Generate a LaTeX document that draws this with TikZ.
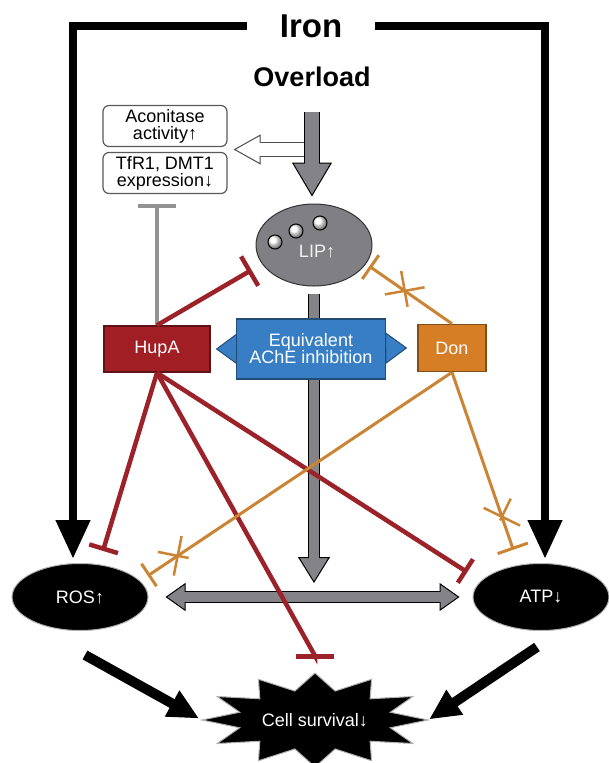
\documentclass[tikz,border=0pt]{standalone}
\usepackage{fontspec}
\setmainfont{Liberation Sans}
\usetikzlibrary{arrows.meta, positioning, shapes.geometric, shapes.misc, calc}

\definecolor{hupared}{RGB}{160,30,36}
\definecolor{inhred}{RGB}{155,34,40}
\definecolor{donorange}{RGB}{214,126,38}
\definecolor{inhorange}{RGB}{202,132,52}
\definecolor{achblue}{RGB}{56,126,196}
\definecolor{lipgray}{RGB}{128,128,132}
\definecolor{arrgray}{RGB}{132,132,136}

\begin{document}
\begin{tikzpicture}[x=1pt, y=-1pt,
  lbl/.style={font=\fontsize{18}{17}\selectfont, align=center},
  heading/.style={font=\bfseries\fontsize{#1}{#1}\selectfont},
  agent/.style={lbl, text=white, line width=1.5pt, inner sep=2pt},
  infobox/.style={lbl, draw=gray!70!black, fill=white, rounded corners=6pt, line width=1.2pt,
                  minimum width=124pt, minimum height=41pt, inner sep=1pt},
  outcome/.style={lbl, ellipse, fill=black, draw=gray!60, line width=1pt, text=white,
                  minimum width=136pt, minimum height=67pt},
  fatarrow/.style n args={3}{draw=black, line width=#1+2pt,
    -{Triangle[width=#2, length=#3, line width=1pt, fill=arrgray]},
    postaction={draw=arrgray, line width=#1, arrows=-, shorten >=#3-4pt}},
  fatdouble/.style n args={3}{draw=black, line width=#1+2pt,
    {Triangle[width=#2, length=#3, line width=1pt, fill=arrgray]}-{Triangle[width=#2, length=#3, line width=1pt, fill=arrgray]},
    postaction={draw=arrgray, line width=#1, arrows=-, shorten >=#3-4pt, shorten <=#3-4pt}},
  hollowarrow/.style={draw=gray!60!black, line width=15pt,
    -{Triangle[width=30pt, length=27pt, line width=1pt, fill=white]},
    postaction={draw=white, line width=13pt, arrows=-, shorten >=23pt}},
  ironarrow/.style={draw=black, line width=8pt, -{Triangle[width=35pt, length=38pt, line width=1pt]}},
  blackarrow/.style={draw=black, line width=10pt, -{Triangle[width=30pt, length=30pt, line width=1pt]}},
  bluearrow/.style={draw=achblue, line width=20pt,
    {Triangle[width=32pt, length=22pt, line width=1pt, color=achblue!60!black, fill=achblue]}-{Triangle[width=32pt, length=22pt, line width=1pt, color=achblue!60!black, fill=achblue]}},
  inhibit/.style={draw=inhred, line width=4.5pt},
  inhibitd/.style={draw=inhorange, line width=3pt},
  grayinhibit/.style={draw=gray!85, line width=4pt, -{Bar[width=38pt]}},
  xmark/.style={cross out, draw=inhorange, line width=2.5pt, minimum size=26pt, inner sep=0pt, sloped},
  burst/.style={fill=black, draw=gray!60, line width=1pt}
]
  \useasboundingbox (0,0) rectangle (609,763);

  \node[heading=33, inner xsep=33pt] (iron) at (311,26) {Iron};
  \node[heading=27] (overload) at (312,77) {Overload};
  \node[infobox] (acon) at (165,126) {Aconitase\\activity↑};
  \node[infobox] (tfr) at (165,173) {TfR1, DMT1\\expression↓};

  \node[ellipse, fill=lipgray, draw=gray!40!black, line width=1pt,
        minimum width=116pt, minimum height=82pt] (lip) at (314,245) {};
  \foreach \bx/\by in {275/242, 296/231, 320/223}
    \draw[ball color=white, line width=1pt] (\bx,\by) circle (7pt);
  \node[lbl, text=white!88!gray] (liplabel) at (317,252) {LIP↑};

  \node[agent, fill=hupared, draw=hupared!60!black, minimum width=106pt, minimum height=46pt] (hupa) at (157,349) {HupA};
  \node[agent, fill=donorange, draw=donorange!60!black, minimum width=68pt, minimum height=47pt] (don) at (452,348) {Don};

  \node[outcome] (ros) at (80,597) {ROS↑};
  \node[outcome] (atp) at (541,597) {ATP↓};

  % twelve-pointed burst behind the survival label
  \coordinate (cellc) at (315,720);
  \draw[burst, shift={(cellc)}] plot[samples at={0,...,23}, variable=\k]
    ({ifthenelse(mod(\k,2)==0,113,78)*cos(15*\k)}, {ifthenelse(mod(\k,2)==0,47,30)*sin(15*\k)}) -- cycle;
  \node[lbl, text=white, minimum width=226pt, minimum height=94pt] (cell) at (cellc) {Cell survival↓};

  \coordinate (boxgap) at ($(acon.south east)!0.5!(tfr.north east)$);
  \coordinate (rosatp) at ($(ros.east)!0.5!(atp.west)$);

  % iron input
  \draw[ironarrow] (iron.west) -| ([xshift=-7pt,yshift=5pt]ros.north);
  \draw[ironarrow] (iron.east) -| ([xshift=4pt,yshift=5pt]atp.north);

  % gray flow
  \draw[hollowarrow] (boxgap -| overload) -- ([xshift=6pt]boxgap);
  \draw[fatarrow={14pt}{40pt}{34pt}] ([yshift=-22pt]overload.south) -- ([yshift=7pt]overload.south |- lip.north);
  \draw[fatarrow={10pt}{32pt}{26pt}] ([yshift=-7pt]lip.south) -- ([yshift=14pt]lip.south |- rosatp);
  \draw[fatdouble={10pt}{28pt}{20pt}] ([xshift=17pt]ros.east) -- ([xshift=-13pt]atp.west);
  \draw[bluearrow] ([xshift=5pt]hupa.east) -- ([xshift=-10pt]don.west);
  \node[agent, fill=achblue, draw=achblue!60!black, minimum width=149pt, minimum height=60pt] (equiv) at (311,349) {Equivalent\\AChE inhibition};

  % inhibitions
  \draw[grayinhibit] (hupa.north) -- ([yshift=-10pt]hupa.north |- tfr.south);
  \draw[inhibit, -{Bar[width=34pt]}, shorten >=12pt] (hupa.north) -- (lip.200);
  \draw[inhibit, -{Bar[width=30pt]}, shorten >=14pt] (hupa.south) -- (ros.60);
  \draw[inhibit, -{Bar[width=28pt]}, shorten >=16pt] (hupa.south) -- (atp.165);
  \draw[inhibit, -{Bar[width=38pt]}] (hupa.south) -- ([yshift=17pt]cell.north) -- ([yshift=14pt]cell.north);
  \draw[inhibitd, -{Bar[width=29pt]}, shorten >=4pt] (don.north) -- node[xmark, pos=0.55] (xlip) {} (lip.-20);
  \draw[inhibitd, -{Bar[width=27pt]}, shorten >=9pt] (don.south) -- node[xmark, pos=0.88] (xros) {} (ros.15);
  \draw[inhibitd, -{Bar[width=32pt]}, shorten >=16pt] (don.south) -- node[xmark, pos=0.75] (xatp) {} (atp.125);

  % outcome
  \draw[blackarrow, shorten >=4pt] ([xshift=5pt,yshift=-24pt]ros.south) -- (cell.west);
  \draw[blackarrow, shorten >=2pt] ([xshift=-4pt,yshift=-16pt]atp.south) -- (cell.east);
\end{tikzpicture}
\end{document}
